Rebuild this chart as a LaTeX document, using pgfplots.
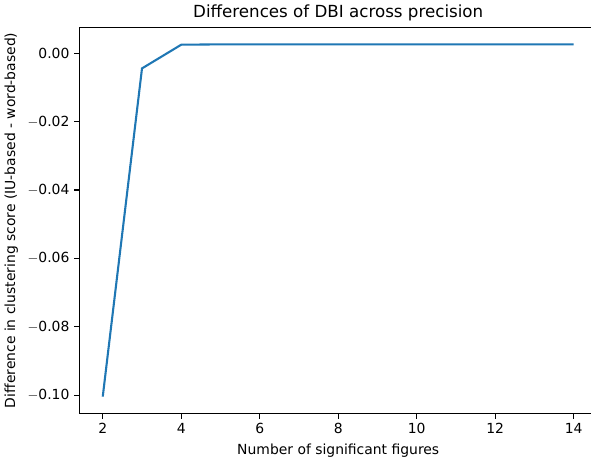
\documentclass[border=0pt]{standalone}
\usepackage{fontspec}
\setmainfont{DejaVu Sans}
\usepackage{pgfplots}
\pgfplotsset{compat=1.18}
\definecolor{mplblue}{HTML}{1F77B4}
\begin{document}
\begin{tikzpicture}[trim right=368pt]
\begin{axis}[
  scale only axis,
  width=372.5pt, height=278pt,
  xmin=1.4, xmax=14.6,
  ymin=-0.1054, ymax=0.0076,
  xtick={2,4,6,8,10,12,14},
  ytick={-0.10,-0.08,-0.06,-0.04,-0.02,0.00},
  yticklabels={$-$0.10,$-$0.08,$-$0.06,$-$0.04,$-$0.02,0.00},
  /pgf/number format/assume math mode=true,
  tick align=outside,
  tick pos=left,
  major tick length=3.5pt,
  every tick/.style={black, line width=0.8pt},
  axis line style={line width=0.8pt},
  tick label style={font=\fontsize{10}{12}\selectfont},
  label style={font=\fontsize{10}{12}\selectfont},
  title style={font=\fontsize{12}{14}\selectfont, yshift=-5pt},
  title={Differences of DBI across precision},
  xlabel={Number of significant figures},
  ylabel={Difference in clustering score (IU-based - word-based)},
  scaled y ticks=false,
  clip=false,
]
\addplot[color=mplblue, line width=1.5pt, mark=none] coordinates {
(2,-0.1004) (3,-0.00448) (4,0.00245) (5,0.00255) (6,0.00255) (7,0.00255) (8,0.00255) (9,0.00255) (10,0.00255) (11,0.00255) (12,0.00255) (13,0.00255) (14,0.00255)
};
\end{axis}
\end{tikzpicture}
\end{document}
